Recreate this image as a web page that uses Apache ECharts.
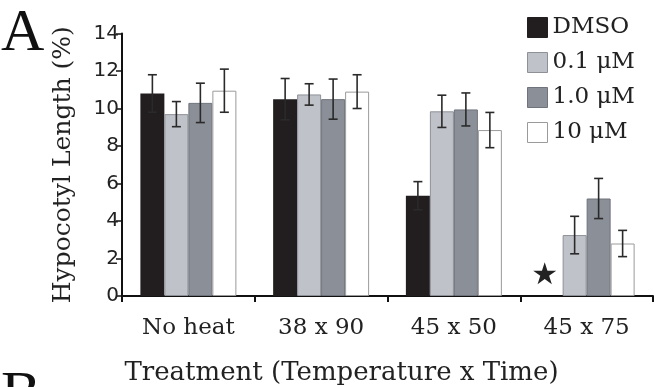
<!DOCTYPE html>
<html>
<head>
<meta charset="utf-8">
<script src="https://cdn.jsdelivr.net/npm/echarts@6/dist/echarts.min.js"></script>
<style>
  html, body { margin: 0; padding: 0; background: #fff; }
  #chart { width: 654px; height: 387px; }
</style>
</head>
<body>
<div id="chart"></div>
<script>
const categories = ['No heat', '38 x 90', '45 x 50', '45 x 75']
const seriesNames = ['DMSO', '0.1 μM', '1.0 μM', '10 μM']

// bar heights (%)
const dmso = [10.8, 10.5, 5.35, 0]
const conc01 = [9.7, 10.75, 9.85, 3.25]
const conc10 = [10.3, 10.5, 9.95, 5.2]
const conc100 = [10.95, 10.9, 8.85, 2.8]

// +/- error bar half-lengths
const dmsoErr = [1.0, 1.1, 0.75, null]
const conc01Err = [0.67, 0.57, 0.86, 1.0]
const conc10Err = [1.05, 1.07, 0.88, 1.07]
const conc100Err = [1.15, 0.9, 0.94, 0.7]

const yTicks = [0, 2, 4, 6, 8, 10, 12, 14]

const values = [dmso, conc01, conc10, conc100]
const errors = [dmsoErr, conc01Err, conc10Err, conc100Err]
const fills = ['#221e1f', '#c0c2c9', '#8b8f98', '#ffffff']
const borders = ['#221e1f', '#8e9097', '#6f737b', '#9a9a9a']

const catGap = 0.277
const serif = 'DejaVu Serif'

const chart = echarts.init(document.getElementById('chart'), null, { renderer: 'canvas' })

const barSeries = values.map((vals, k) => ({
  name: seriesNames[k],
  type: 'bar',
  barGap: '0%',
  barCategoryGap: (catGap * 100) + '%',
  itemStyle: { color: fills[k], borderColor: borders[k], borderWidth: k === 0 ? 0 : 1 },
  emphasis: { disabled: true },
  data: vals.map((v, i) => {
    if (k === 0 && i === 3) {
      // no DMSO seedlings survived: star marker instead of a bar
      return {
        value: v,
        label: {
          show: true, formatter: '★', position: 'top', distance: 5,
          offset: [-6, 0], fontSize: 30, color: '#222', fontFamily: 'DejaVu Sans'
        }
      }
    }
    return v
  })
}))

const errData = []
values.forEach((vals, k) => {
  vals.forEach((v, i) => {
    if (errors[k][i] != null) errData.push([i, v, errors[k][i], k])
  })
})

function renderErr(params, api) {
  const i = api.value(0)
  const v = api.value(1)
  const e = api.value(2)
  const k = api.value(3)
  const catW = api.size([1, 0])[0]
  const barW = catW * (1 - catGap) / 4
  const center = api.coord([i, v])[0] + (k - 1.5) * barW
  const top = api.coord([i, v + e])[1]
  const bot = api.coord([i, v - e])[1]
  const cap = 4.5
  const style = { stroke: '#2a2a2a', lineWidth: 1.6 }
  return {
    type: 'group',
    children: [
      { type: 'line', shape: { x1: center, y1: top, x2: center, y2: bot }, style },
      { type: 'line', shape: { x1: center - cap, y1: top, x2: center + cap, y2: top }, style },
      { type: 'line', shape: { x1: center - cap, y1: bot, x2: center + cap, y2: bot }, style }
    ]
  }
}

chart.setOption({
  animation: false,
  backgroundColor: '#ffffff',
  grid: { left: 122, right: 1, top: 33.5, bottom: 91, outerBoundsMode: 'none' },
  legend: {
    data: seriesNames,
    orient: 'vertical',
    left: 527,
    top: 16,
    padding: 0,
    icon: 'rect',
    itemWidth: 20,
    itemHeight: 20,
    itemGap: 12,
    itemStyle: { borderWidth: 1 },
    textStyle: { fontFamily: serif, fontSize: 23, color: '#222', padding: [0, 0, 0, 0] },
    selectedMode: false
  },
  xAxis: {
    type: 'category',
    data: categories,
    name: 'Treatment (Temperature x Time)',
    nameLocation: 'middle',
    nameGap: 64,
    nameTextStyle: { fontFamily: serif, fontSize: 26, color: '#222', padding: [0, 92, 0, 0] },
    axisLine: { lineStyle: { color: '#111', width: 2 } },
    axisTick: { show: true, length: 6, lineStyle: { color: '#111', width: 2 } },
    axisLabel: { fontFamily: serif, fontSize: 23, color: '#222', margin: 21 }
  },
  yAxis: {
    type: 'value',
    min: yTicks[0],
    max: yTicks[yTicks.length - 1],
    interval: yTicks[1] - yTicks[0],
    name: 'Hypocotyl Length (%)',
    nameLocation: 'middle',
    nameRotate: 90,
    nameGap: 46,
    nameTextStyle: { fontFamily: serif, fontSize: 25, color: '#222' },
    splitLine: { show: false },
    axisLine: { show: true, lineStyle: { color: '#111', width: 2 } },
    axisTick: { show: true, length: 6, lineStyle: { color: '#111', width: 1.5 } },
    axisLabel: { fontFamily: 'DejaVu Sans', fontSize: 20, color: '#222', margin: 3 }
  },
  series: [
    ...barSeries,
    {
      type: 'custom',
      renderItem: renderErr,
      encode: { x: 0, y: 1 },
      data: errData,
      z: 5,
      silent: true
    }
  ],
  graphic: [
    { type: 'text', left: 1, top: 4, style: { text: 'A', font: '60px Liberation Serif', fill: '#111' } },
    { type: 'text', left: 1, top: 366, style: { text: 'B', font: '60px Liberation Serif', fill: '#111' } }
  ]
})
</script>
</body>
</html>
